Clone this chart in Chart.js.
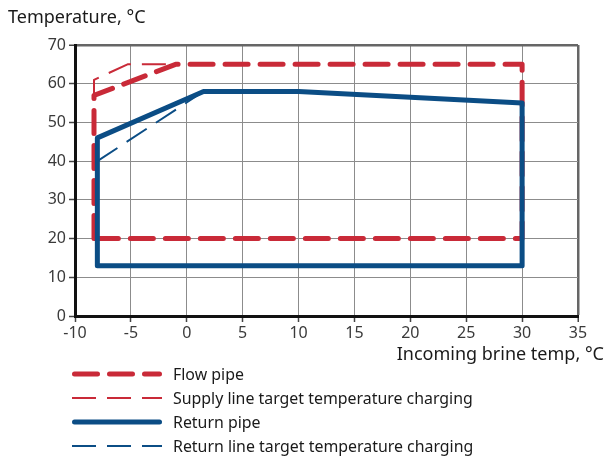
<!DOCTYPE html>
<html>
<head>
<meta charset="utf-8">
<script src="https://cdn.jsdelivr.net/npm/chart.js@4"></script>
<style>
  html, body { margin: 0; padding: 0; background: #fff; }
  #wrap { width: 606px; height: 456px; position: relative; }
</style>
</head>
<body>
<div id="wrap"><canvas id="chart" width="606" height="456"></canvas></div>
<script>
// values
const xTicks = [-10, -5, 0, 5, 10, 15, 20, 25, 30, 35];
const yTicks = [0, 10, 20, 30, 40, 50, 60, 70];

const flowX = [-8.3, -8.3, -1, 30, 30, -8.3];
const flowY = [20, 57, 65, 65, 20, 20];

const supplyX = [-8.3, -8.3, -5.3, -1];
const supplyY = [20, 61, 65, 65];

const returnX = [-8, -8, 1.5, 10, 30, 30, -8];
const returnY = [13, 46, 58, 58, 55, 13, 13];

const returnTargetX = [-8, 1.5];
const returnTargetY = [40, 58];

const labels = [
  'Flow pipe',
  'Supply line target temperature charging',
  'Return pipe',
  'Return line target temperature charging'
];

const RED = '#c92a38';
const BLUE = '#0b4d85';
const FONT = '"Noto Sans", sans-serif';

const toPoints = (xs, ys) => xs.map((x, i) => ({ x, y: ys[i] }));

function lineSet(label, xs, ys, color, width, dash, cap, order) {
  return {
    label,
    order,
    data: toPoints(xs, ys),
    borderColor: color,
    borderWidth: width,
    borderDash: dash,
    borderCapStyle: cap,
    borderJoinStyle: 'round',
    pointRadius: 0,
    fill: false,
    tension: 0
  };
}

// return pipe sits on top of the flow pipe, thin target lines underneath
const datasets = [
  lineSet(labels[0], flowX, flowY, RED, 5, [23, 12], 'round', 1),
  lineSet(labels[1], supplyX, supplyY, RED, 2, [24, 11], 'butt', 2),
  lineSet(labels[2], returnX, returnY, BLUE, 5, [], 'round', 0),
  lineSet(labels[3], returnTargetX, returnTargetY, BLUE, 2, [24, 11], 'butt', 2)
];

// axis titles and the legend block are drawn here
const decorations = {
  id: 'decorations',
  afterDraw(chart) {
    const { ctx } = chart;
    ctx.save();
    ctx.fillStyle = '#1a1a1a';
    ctx.font = '18px ' + FONT;
    ctx.textBaseline = 'alphabetic';
    ctx.textAlign = 'left';
    ctx.fillText('Temperature, °C', 8, 23);
    ctx.textAlign = 'right';
    ctx.fillText('Incoming brine temp, °C', 604, 360);

    const rows = [374, 398, 422, 446];
    ctx.textAlign = 'left';
    ctx.textBaseline = 'middle';
    ctx.font = '15.9px ' + FONT;
    chart.data.datasets.forEach((ds, i) => {
      ctx.save();
      ctx.strokeStyle = ds.borderColor;
      ctx.lineWidth = ds.borderWidth;
      ctx.lineCap = ds.borderCapStyle;
      ctx.setLineDash(ds.borderDash);
      const inset = ds.borderCapStyle === 'round' ? 2.5 : 0;
      ctx.beginPath();
      ctx.moveTo(72 + inset, rows[i]);
      ctx.lineTo(162 - inset, rows[i]);
      ctx.stroke();
      ctx.restore();
      ctx.fillText(ds.label, 173, rows[i] + 1);
    });
    ctx.restore();
  }
};

new Chart(document.getElementById('chart'), {
  type: 'line',
  data: { datasets },
  plugins: [decorations],
  options: {
    responsive: false,
    animation: false,
    layout: { padding: { top: 45, right: 28, left: 0, bottom: 0 } },
    plugins: { legend: { display: false }, tooltip: { enabled: false } },
    scales: {
      x: {
        type: 'linear',
        min: xTicks[0],
        max: xTicks[xTicks.length - 1],
        afterBuildTicks: s => { s.ticks = xTicks.map(v => ({ value: v })); },
        afterFit: s => { s.height = 140; },
        ticks: { color: '#3a3a3a', font: { family: FONT, size: 16 }, padding: 2, maxRotation: 0 },
        grid: {
          color: ctx => ctx.tick && ctx.tick.value === 35 ? '#666' : '#8c8c8c',
          lineWidth: ctx => ctx.tick && ctx.tick.value === 35 ? 2.5 : 1,
          tickLength: 6,
          tickColor: '#444',
          tickWidth: 1.5
        },
        border: { color: '#111', width: 3 }
      },
      y: {
        min: yTicks[0],
        max: yTicks[yTicks.length - 1],
        afterBuildTicks: s => { s.ticks = yTicks.map(v => ({ value: v })); },
        afterFit: s => { s.width = 75; },
        ticks: { color: '#3a3a3a', font: { family: FONT, size: 16 }, padding: 3 },
        grid: {
          color: ctx => ctx.tick && ctx.tick.value === 70 ? '#666' : '#8c8c8c',
          lineWidth: ctx => ctx.tick && ctx.tick.value === 70 ? 2.5 : 1,
          tickLength: 6,
          tickColor: '#444',
          tickWidth: 1.5
        },
        border: { color: '#111', width: 3 }
      }
    }
  }
});
</script>
</body>
</html>
